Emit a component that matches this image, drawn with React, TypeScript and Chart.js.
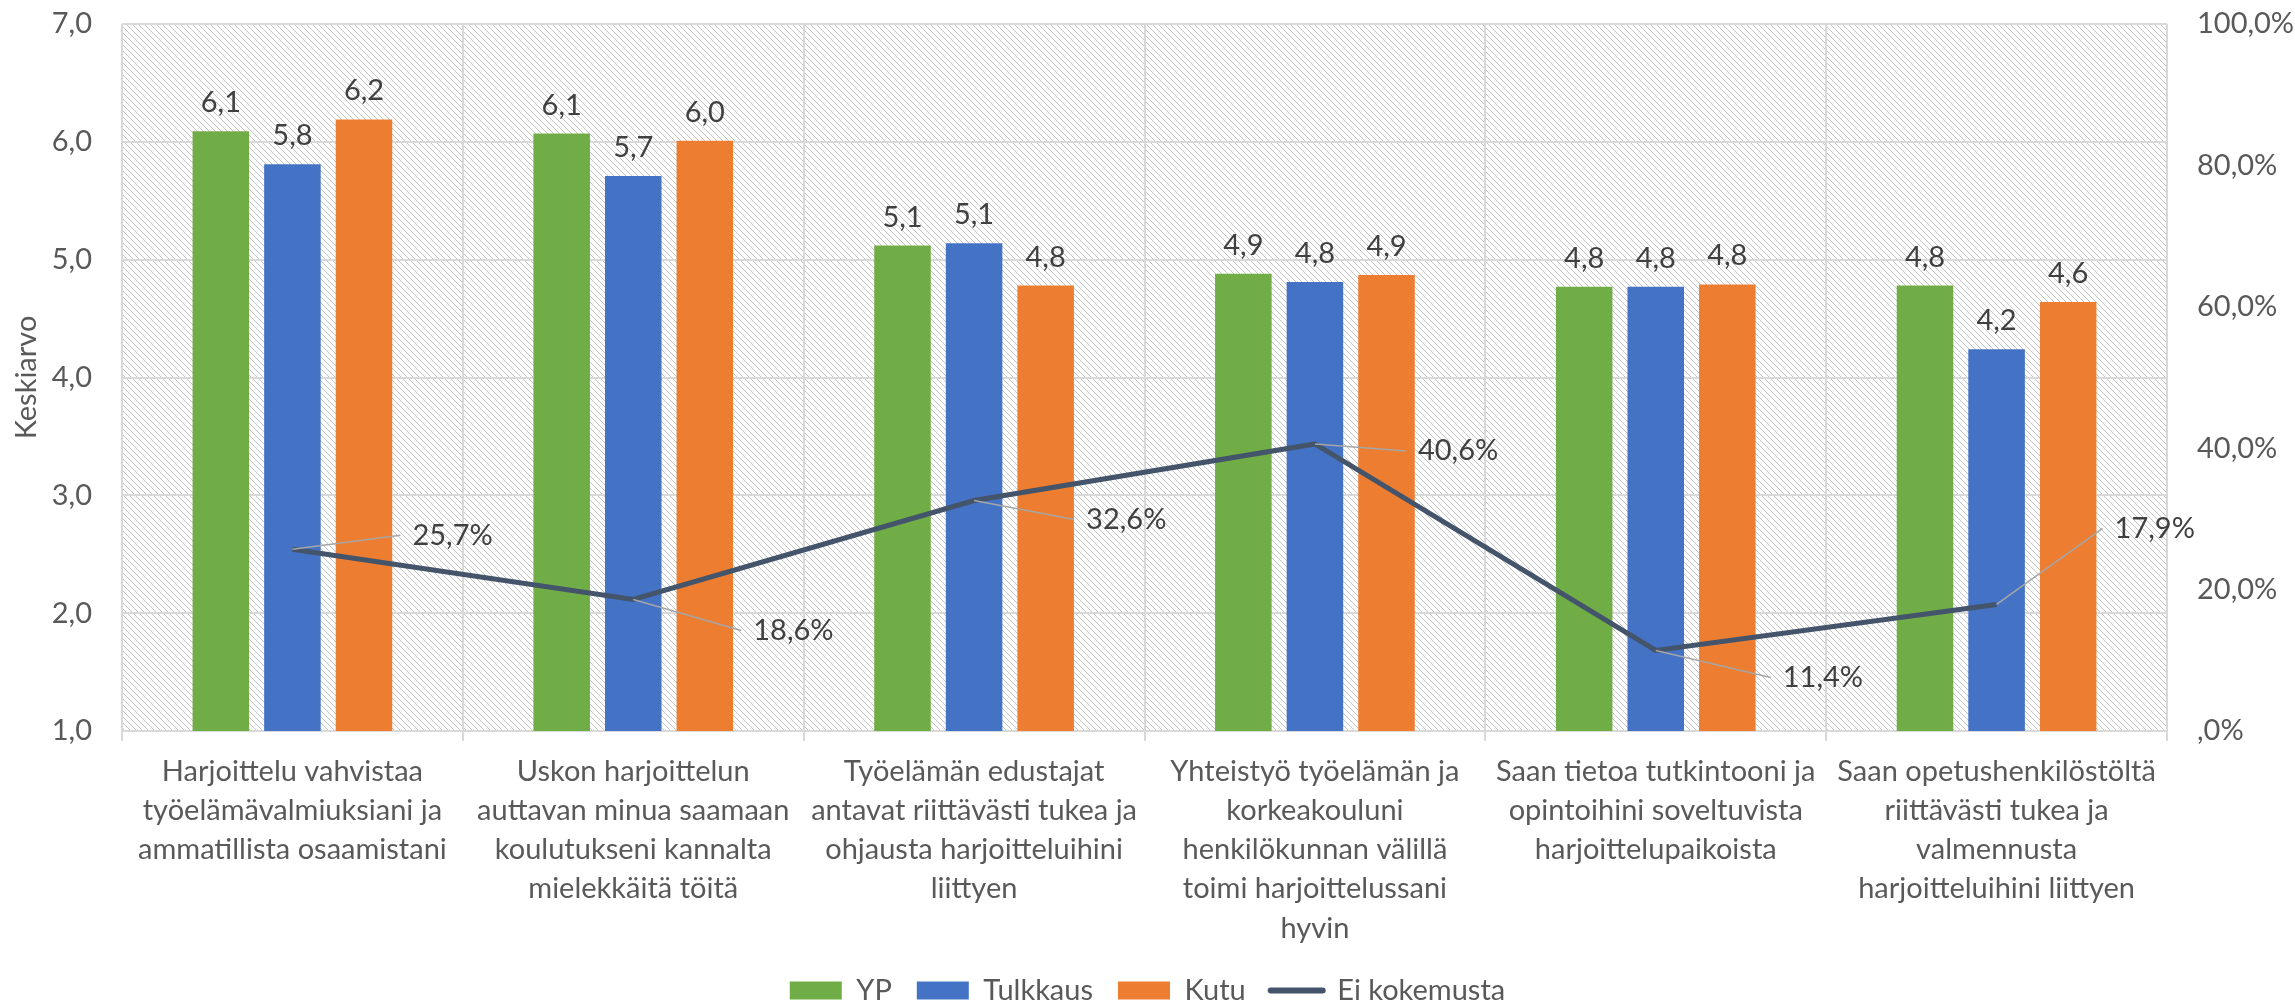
import React, { useEffect, useRef } from 'react';
import { Chart, registerables } from 'chart.js';

Chart.register(...registerables);

const FONT = 'Lato';
const W = 2295;
const H = 1003;

const categoryLabels: string[][] = [
  ['Harjoittelu vahvistaa', 'työelämävalmiuksiani ja', 'ammatillista osaamistani'],
  ['Uskon harjoittelun', 'auttavan minua saamaan', 'koulutukseni kannalta', 'mielekkäitä töitä'],
  ['Työelämän edustajat', 'antavat riittävästi tukea ja', 'ohjausta harjoitteluihini', 'liittyen'],
  ['Yhteistyö työelämän ja', 'korkeakouluni', 'henkilökunnan välillä', 'toimi harjoittelussani', 'hyvin'],
  ['Saan tietoa tutkintooni ja', 'opintoihini soveltuvista', 'harjoittelupaikoista'],
  ['Saan opetushenkilöstöltä', 'riittävästi tukea ja', 'valmennusta', 'harjoitteluihini liittyen'],
];

const seriesNames = ['YP', 'Tulkkaus', 'Kutu', 'Ei kokemusta'];
const ypValues = [6.09, 6.07, 5.12, 4.88, 4.77, 4.78];
const tulkkausValues = [5.81, 5.71, 5.14, 4.81, 4.77, 4.24];
const kutuValues = [6.19, 6.01, 4.78, 4.87, 4.79, 4.64];
const eiKokemustaValues = [25.7, 18.6, 32.6, 40.6, 11.4, 17.9];

const leftAxisTitle = 'Keskiarvo';
const seriesColors = ['#70AD47', '#4472C4', '#ED7D31', '#44546A'];

// label offsets (px) of the line's data labels relative to their points
const lineLabelOffsets: [number, number][] = [
  [120, -14],
  [120, 31],
  [112, 19],
  [103, 7],
  [127, 27],
  [118, -76],
];

const fmt1 = (v: number) => v.toFixed(1).replace('.', ',');
const fmtPct = (v: number) => (v === 0 ? ',0%' : v.toFixed(1).replace('.', ',') + '%');

function makePattern(): CanvasPattern | string {
  const s = 6;
  const c = document.createElement('canvas');
  c.width = s;
  c.height = s;
  const g = c.getContext('2d');
  if (!g) return '#EEEEEE';
  g.fillStyle = '#FFFFFF';
  g.fillRect(0, 0, s, s);
  g.strokeStyle = '#C4C4C4';
  g.lineWidth = 1;
  g.beginPath();
  g.moveTo(-1, -1);
  g.lineTo(s + 1, s + 1);
  g.moveTo(-1, s - 1);
  g.lineTo(1, s + 1);
  g.moveTo(s - 1, -1);
  g.lineTo(s + 1, 1);
  g.stroke();
  const p = g.createPattern(c, 'repeat');
  return p || '#EEEEEE';
}

const LEGEND_HEIGHT = 52;

export default function App() {
  const ref = useRef<HTMLCanvasElement | null>(null);

  useEffect(() => {
    document.body.style.margin = '0';
    const canvas = ref.current;
    if (!canvas) return;
    const pattern = makePattern();

    const bgPlugin = {
      id: 'hatchBg',
      beforeDraw(chart: any) {
        const { ctx, chartArea: a } = chart;
        ctx.save();
        ctx.fillStyle = '#FFFFFF';
        ctx.fillRect(0, 0, chart.width, chart.height);
        ctx.fillStyle = pattern;
        ctx.fillRect(a.left, a.top, a.right - a.left, a.bottom - a.top);
        ctx.restore();
      },
    };

    const legendFit = {
      id: 'legendFit',
      beforeLayout(chart: any) {
        const lg = chart.legend;
        if (lg && !lg.__patched) {
          const orig = lg.fit.bind(lg);
          lg.fit = () => {
            orig();
            lg.height = LEGEND_HEIGHT;
          };
          lg.__patched = true;
        }
      },
    };

    const labelPlugin = {
      id: 'valueLabels',
      afterDatasetsDraw(chart: any) {
        const ctx = chart.ctx;
        ctx.save();
        ctx.font = `29px ${FONT}`;
        ctx.fillStyle = '#404040';
        ctx.textAlign = 'center';
        ctx.textBaseline = 'alphabetic';
        for (let d = 0; d < 3; d++) {
          const meta = chart.getDatasetMeta(d);
          meta.data.forEach((bar: any, i: number) => {
            const v = chart.data.datasets[d].data[i] as number;
            ctx.fillText(fmt1(v), bar.x, bar.y - 19);
          });
        }
        const lm = chart.getDatasetMeta(3);
        lm.data.forEach((pt: any, i: number) => {
          const v = chart.data.datasets[3].data[i] as number;
          const [dx, dy] = lineLabelOffsets[i];
          const tx = pt.x + dx;
          const ty = pt.y + dy;
          ctx.strokeStyle = '#A6A6A6';
          ctx.lineWidth = 1.5;
          ctx.beginPath();
          ctx.moveTo(pt.x, pt.y);
          ctx.lineTo(tx - 12, ty);
          ctx.stroke();
          ctx.textAlign = 'left';
          ctx.textBaseline = 'middle';
          ctx.fillText(fmtPct(v), tx, ty);
        });
        ctx.restore();
      },
    };

    const chart = new Chart(canvas, {
      data: {
        labels: categoryLabels as any,
        datasets: [
          {
            type: 'bar',
            label: seriesNames[0],
            data: ypValues,
            backgroundColor: seriesColors[0],
            yAxisID: 'y',
            order: 1,
            categoryPercentage: 0.63,
            barPercentage: 0.79,
          },
          {
            type: 'bar',
            label: seriesNames[1],
            data: tulkkausValues,
            backgroundColor: seriesColors[1],
            yAxisID: 'y',
            order: 1,
            categoryPercentage: 0.63,
            barPercentage: 0.79,
          },
          {
            type: 'bar',
            label: seriesNames[2],
            data: kutuValues,
            backgroundColor: seriesColors[2],
            yAxisID: 'y',
            order: 1,
            categoryPercentage: 0.63,
            barPercentage: 0.79,
          },
          {
            type: 'line',
            label: seriesNames[3],
            data: eiKokemustaValues,
            borderColor: seriesColors[3],
            backgroundColor: seriesColors[3],
            borderWidth: 5,
            pointRadius: 0,
            tension: 0,
            fill: false,
            yAxisID: 'y1',
            order: 0,
          },
        ] as any,
      },
      options: {
        responsive: false,
        animation: false,
        devicePixelRatio: 1,
        layout: { padding: { top: 24, left: 0, right: 0, bottom: 0 } },
        font: { family: FONT } as any,
        plugins: {
          legend: {
            position: 'bottom',
            labels: {
              usePointStyle: true,
              pointStyleWidth: 52,
              boxHeight: 18,
              padding: 25,
              color: '#595959',
              font: { size: 29, family: FONT },
              sort: (a: any, b: any) => a.datasetIndex - b.datasetIndex,
              generateLabels: (c: any) => {
                const items = (Chart.defaults.plugins.legend.labels as any).generateLabels(c);
                return items.map((it: any) => ({
                  ...it,
                  pointStyle: it.datasetIndex === 3 ? 'line' : 'rect',
                  lineCap: 'round',
                  lineWidth: it.datasetIndex === 3 ? 6 : 0,
                }));
              },
            },
          },
          tooltip: { enabled: false },
        },
        scales: {
          x: {
            type: 'category',
            offset: true,
            grid: { offset: true, color: '#D9D9D9', lineWidth: 2, tickLength: 10, drawTicks: true },
            border: { color: '#D9D9D9', width: 2 },
            ticks: {
              color: '#595959',
              font: { size: 29, family: FONT, lineHeight: 1.35 },
              padding: 11,
              maxRotation: 0,
              minRotation: 0,
              autoSkip: false,
            },
            afterFit: (s: any) => {
              s.height = H - 731 - LEGEND_HEIGHT;
            },
          },
          y: {
            type: 'linear',
            position: 'left',
            min: 1,
            max: 7,
            ticks: {
              stepSize: 1,
              padding: 30,
              color: '#595959',
              font: { size: 29, family: FONT },
              callback: (v: any) => fmt1(Number(v)),
            },
            grid: { color: '#D9D9D9', lineWidth: 2, drawTicks: false },
            border: { display: false },
            title: {
              display: true,
              text: leftAxisTitle,
              color: '#595959',
              font: { size: 29, family: FONT },
              padding: { top: 9, bottom: 0 },
            },
            afterFit: (s: any) => {
              s.width = 122;
              s.paddingTop = 0;
              s.paddingBottom = 0;
            },
          },
          y1: {
            type: 'linear',
            position: 'right',
            min: 0,
            max: 100,
            ticks: {
              stepSize: 20,
              padding: 30,
              color: '#595959',
              font: { size: 29, family: FONT },
              callback: (v: any) => fmtPct(Number(v)),
            },
            grid: { display: false, drawTicks: false },
            border: { display: false },
            afterFit: (s: any) => {
              s.width = 128;
              s.paddingTop = 0;
              s.paddingBottom = 0;
            },
          },
        },
      } as any,
      plugins: [bgPlugin, labelPlugin, legendFit],
    });

    return () => {
      chart.destroy();
    };
  }, []);

  return (
    <div style={{ width: W, height: H }}>
      <canvas ref={ref} width={W} height={H} style={{ display: 'block', width: W, height: H }} />
    </div>
  );
}
